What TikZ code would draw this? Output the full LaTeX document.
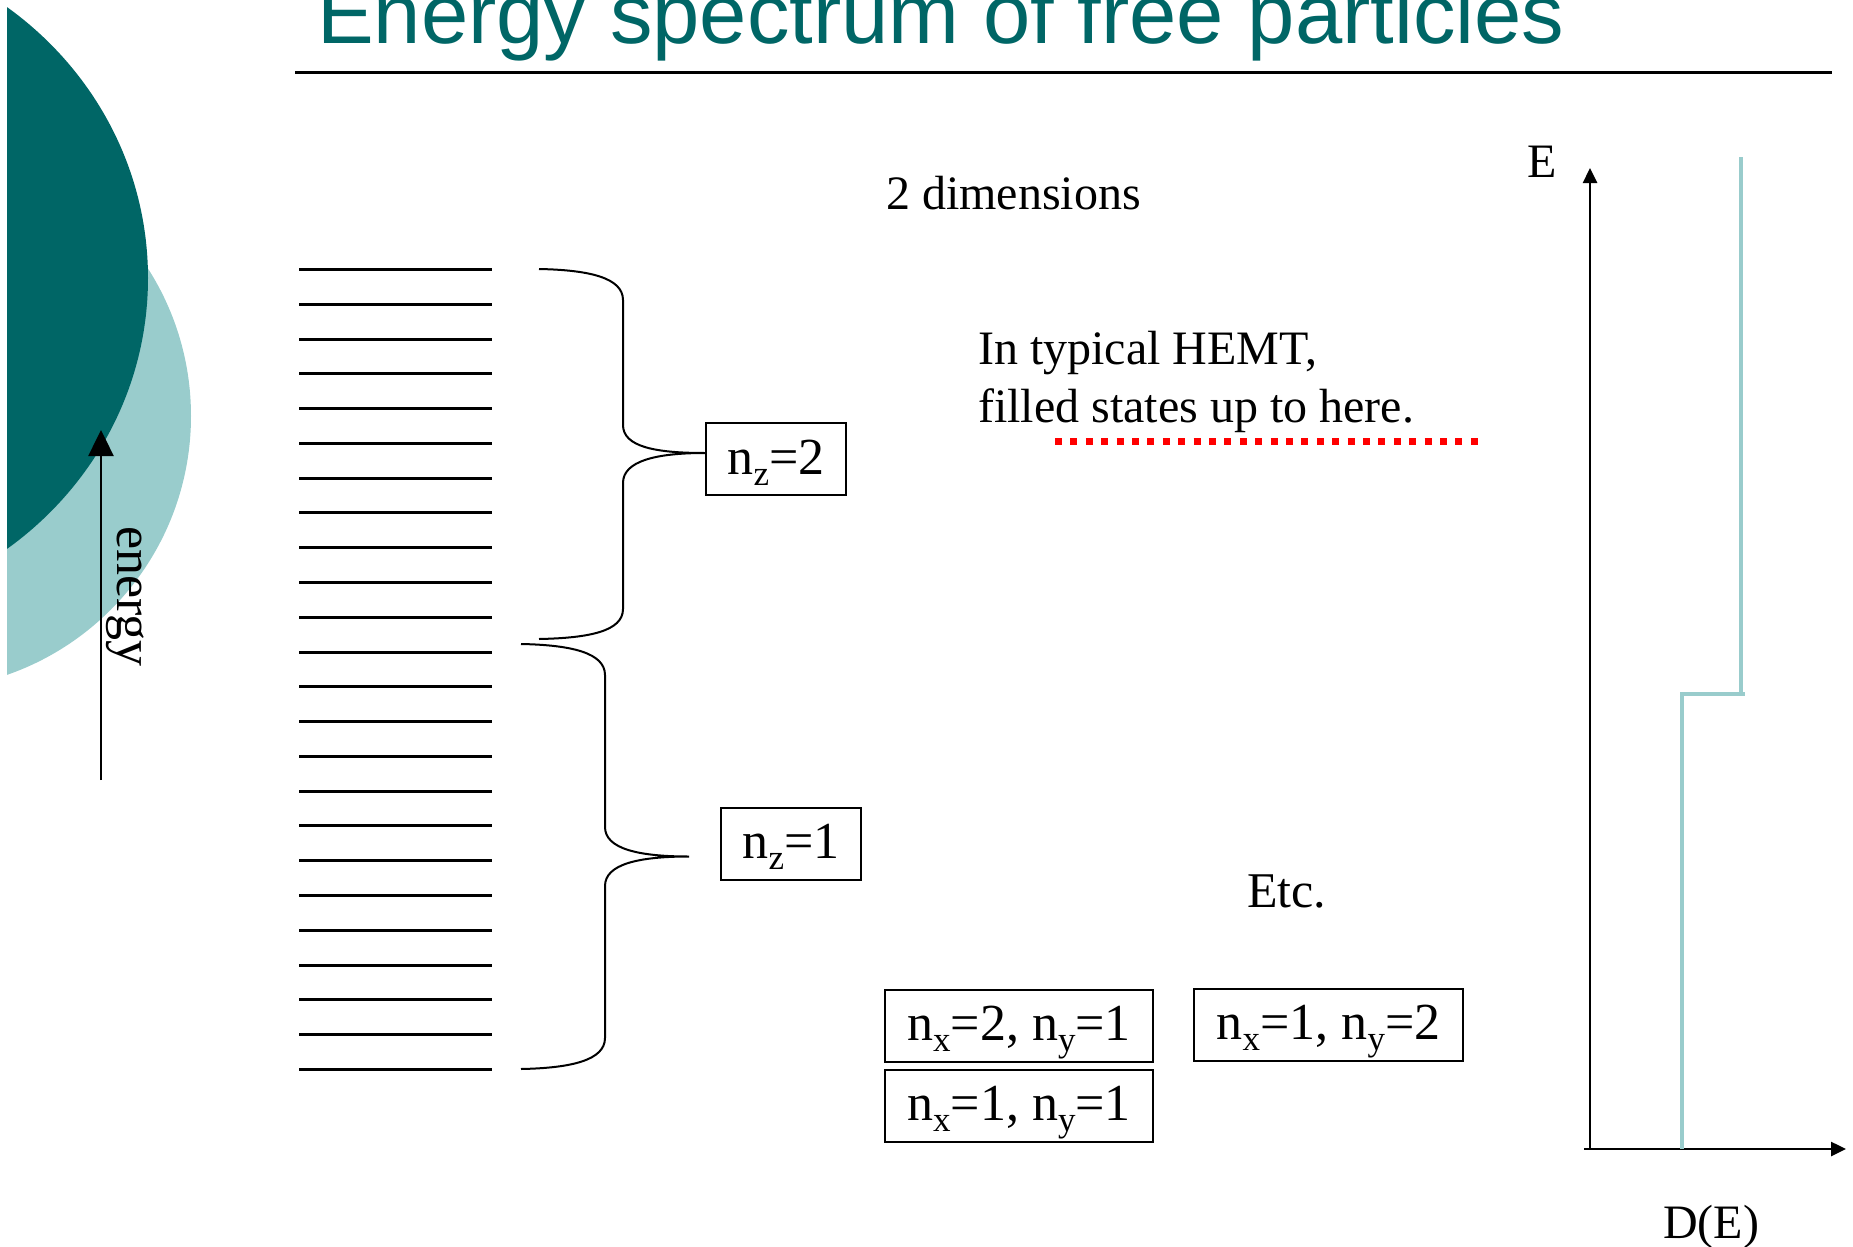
\documentclass[tikz,border=0pt]{standalone}
\usepackage{fontspec}
\setmainfont{Liberation Serif}
\newfontfamily\titlefont{Liberation Sans}
\usetikzlibrary{arrows.meta}
\definecolor{tealdark}{RGB}{0,102,102}
\definecolor{teallight}{RGB}{153,204,204}
\newcommand{\sbs}[1]{\raisebox{-11pt}{\fontsize{35}{35}\selectfont #1}}
\begin{document}
\begin{tikzpicture}[x=1pt,y=-1pt,
  txt/.style={anchor=base west,inner sep=0pt,font=\fontsize{48}{57}\selectfont},
  box/.style={draw,line width=2pt,inner sep=0pt,minimum height=72pt,text height=37pt,text depth=7pt,font=\fontsize{52}{60}\selectfont},
  level/.style={line width=3pt},
  brace/.style={line width=2pt},
  axis/.style={line width=2.5pt,-{Triangle[length=15pt,width=14pt]}},
  dos/.style={line width=4pt,teallight}
]
\useasboundingbox (0,0) rectangle (1853,1247);
% background circles
\begin{scope}
\clip (7,0) rectangle (400,1247);
\fill[teallight] (-83,416) circle (274pt);
\fill[tealdark] (-200,278) ellipse [x radius=348pt, y radius=337pt];
\end{scope}
% title
\node[anchor=base west,inner sep=0pt,text=tealdark,font=\titlefont\fontsize{85}{90}\selectfont] (title) at (317,44) {Energy spectrum of free particles};
\coordinate (ul1) at (295,73);
\coordinate (ul2) at (1832,73);
\draw[line width=3pt] (ul1) -- (ul2);
% energy arrow
\coordinate (ea0) at (101,780);
\coordinate (ea1) at (101,430);
\draw[line width=2.5pt,-{Triangle[length=26pt,width=25pt]}] (ea0) -- (ea1);
\node[anchor=base west,inner sep=0pt,font=\fontsize{52}{60}\selectfont,rotate=-90] (energy) at (117,526) {energy};
% levels
\foreach \i in {0,...,23}
  \draw[level] (299,{269.5+34.78*\i}) -- (492,{269.5+34.78*\i});
% boxes
\node[box,minimum width=140pt] (nz2) at (776,459) {n\sbs{z}=2};
\node[box,minimum width=140pt] (nz1) at (791,843.5) {n\sbs{z}=1};
\node[box,minimum width=268pt] (b21) at (1019,1025.5) {n\sbs{x}=2, n\sbs{y}=1};
\node[box,minimum width=268pt] (b11) at (1019,1105.5) {n\sbs{x}=1, n\sbs{y}=1};
\node[box,minimum width=269pt] (b12) at (1328.5,1024.5) {n\sbs{x}=1, n\sbs{y}=2};
% braces
\coordinate (ub1) at (539,269);
\coordinate (ub2) at (539,639);
\draw[brace] (ub1) .. controls (590,270) and (623,278) .. (623,300) -- (623,425)
  .. controls (623,447) and (656,453) .. ([yshift=6pt]nz2.west)
  .. controls (656,453) and (623,461) .. (623,483) -- (623,609)
  .. controls (623,631) and (590,638) .. (ub2);
\coordinate (lb1) at (521,644);
\coordinate (lbt) at (689,856.5);
\coordinate (lb2) at (521,1069);
\draw[brace] (lb1) .. controls (572,645) and (605,653) .. (605,675) -- (605,827)
  .. controls (605,849) and (639,856.5) .. (lbt)
  .. controls (639,856.5) and (605,864) .. (605,886) -- (605,1038)
  .. controls (605,1060) and (572,1068) .. (lb2);
% texts
\node[txt] (dim) at (886,209) {2 dimensions};
\node[txt] (hemt1) at (978,364) {In typical HEMT,};
\node[txt] (hemt2) at (978,422) {filled states up to here.};
\coordinate (rd1) at (1055,441);
\coordinate (rd2) at (1480,441);
\draw[red,line width=7pt,dash pattern=on 7pt off 8.4pt] (rd1) -- (rd2);
\node[txt,font=\fontsize{50}{60}\selectfont] (etc) at (1247,907) {Etc.};
\node[txt] (Elab) at (1527,177) {E};
\node[txt] (DE) at (1663,1238) {D(E)};
% axes
\coordinate (O) at (1590,1149);
\coordinate (Ytop) at (1590,168);
\coordinate (Xl) at (1584,1149);
\coordinate (Xr) at (1846,1149);
\draw[axis] (O) -- (Ytop);
\draw[axis] (Xl) -- (Xr);
% density of states
\coordinate (d1) at (1682,1149);
\coordinate (d2) at (1682,694);
\coordinate (d3) at (1745,694);
\coordinate (d4) at (1741,694);
\coordinate (d5) at (1741,157);
\draw[dos] (d1) -- (d2) -- (d3);
\draw[dos] (d4) -- (d5);
\end{tikzpicture}
\end{document}
